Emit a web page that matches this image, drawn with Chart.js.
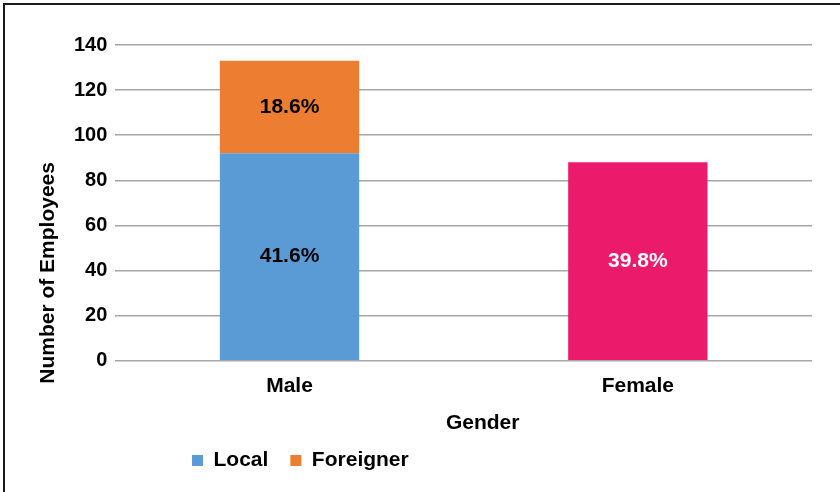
<!DOCTYPE html>
<html>
<head>
<meta charset="utf-8">
<script src="https://cdn.jsdelivr.net/npm/chart.js"></script>
<style>
  body { margin: 0; background: #fff; }
  #wrap { position: relative; width: 840px; height: 492px; overflow: hidden; }
  #frame { position: absolute; left: 3px; top: 3px; right: -5px; bottom: -5px;
           border-top: 2px solid #1a1a1a; border-left: 2px solid #1a1a1a; }
  #myChart { position: absolute; left: 0; top: 0; }
</style>
<script>
  const categories = ['Male', 'Female'];
  const localValues = [92, null];
  const foreignValues = [41, null];
  const femaleValues = [null, 88];
  const localPct = ['41.6%', ''];
  const foreignPct = ['18.6%', ''];
  const femalePct = ['', '39.8%'];
  const yMin = 0, yMax = 140, yStep = 20;
  const yTitle = 'Number of Employees';
  const xTitle = 'Gender';

  const fontFamily = '"Liberation Sans", Arial, Helvetica, sans-serif';
  let myChart;

  // percentages in the middle of each bar segment, plus the two axis titles
  const barText = {
    id: 'barText',
    afterDatasetsDraw(chart) {
      const ctx = chart.ctx;
      ctx.save();
      ctx.font = 'bold 21px ' + fontFamily;
      ctx.textAlign = 'center';
      ctx.textBaseline = 'middle';
      chart.data.datasets.forEach((ds, i) => {
        chart.getDatasetMeta(i).data.forEach((bar, j) => {
          const txt = ds.pct[j];
          if (!txt) return;
          ctx.fillStyle = ds.pctColor;
          ctx.fillText(txt, bar.x, (bar.y + bar.base) / 2);
        });
      });
      const area = chart.chartArea;
      ctx.fillStyle = '#000';
      ctx.fillText(xTitle, (area.left + area.right) / 2 + 19, area.bottom + 62);
      ctx.translate(area.left - 67, (area.top + area.bottom) / 2 + 70);
      ctx.rotate(-Math.PI / 2);
      ctx.fillText(yTitle, 0, 0);
      ctx.restore();
    }
  };

  // legend sits left of centre in the original
  const legendShift = {
    id: 'legendShift',
    afterLayout(chart) {
      const lg = chart.legend;
      const w = lg.right - lg.left;
      const c = chart.chartArea.left + 185;
      lg.left = c - w / 2;
      lg.right = c + w / 2;
    }
  };

  function draw() {
    const data = {
      labels: categories,
      datasets: [
        { label: 'Local', data: localValues, backgroundColor: '#5B9BD5', pct: localPct, pctColor: '#000' },
        { label: 'Foreigner', data: foreignValues, backgroundColor: '#ED7D31', pct: foreignPct, pctColor: '#000' },
        { label: 'Female', data: femaleValues, backgroundColor: '#EC1A6A', pct: femalePct, pctColor: '#fff' }
      ]
    };

    const config = {
      type: 'bar',
      data: data,
      options: {
        responsive: false,
        animation: false,
        categoryPercentage: 1,
        barPercentage: 0.4,
        layout: { padding: { left: 66, right: 28, top: 45, bottom: 11 } },
        scales: {
          x: {
            stacked: true,
            grid: { display: false },
            border: { display: false },
            ticks: { color: '#000', padding: 5, font: { family: fontFamily, size: 21, weight: 'bold' } },
            afterFit(scale) { scale.height += 24; }
          },
          y: {
            stacked: true,
            min: yMin,
            max: yMax,
            grid: { color: '#a6a6a6', lineWidth: 1.5, drawTicks: false },
            border: { display: false },
            ticks: { stepSize: yStep, color: '#000', padding: 8, font: { family: fontFamily, size: 20, weight: 'bold' } }
          }
        },
        plugins: {
          tooltip: { enabled: false },
          legend: {
            position: 'bottom',
            labels: {
              boxWidth: 11,
              boxHeight: 11,
              padding: 22,
              color: '#000',
              font: { family: fontFamily, size: 21, weight: 'bold' },
              filter: item => item.datasetIndex < 2
            }
          }
        }
      },
      plugins: [barText, legendShift]
    };

    myChart = new Chart(document.getElementById('myChart'), config);
  }
</script>
</head>
<body onload="draw()">
<div id="wrap">
  <div id="frame"></div>
  <canvas id="myChart" width="840" height="492"></canvas>
</div>
</body>
</html>
